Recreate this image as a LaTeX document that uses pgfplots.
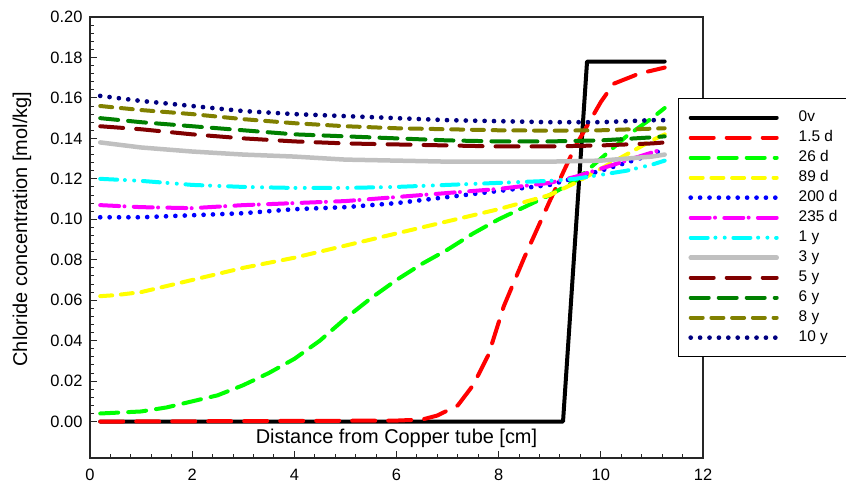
\documentclass[border=0pt]{standalone}
\usepackage{fontspec}
\setmainfont{Liberation Sans}
\usepackage{pgfplots}
\pgfplotsset{compat=1.18}
\definecolor{cblack}{RGB}{0,0,0}
\definecolor{cred}{RGB}{255,0,0}
\definecolor{clime}{RGB}{0,255,0}
\definecolor{cyellow}{RGB}{255,255,0}
\definecolor{cblue}{RGB}{0,0,255}
\definecolor{cmagenta}{RGB}{255,0,255}
\definecolor{ccyan}{RGB}{0,255,255}
\definecolor{cgray}{RGB}{192,192,192}
\definecolor{cdarkred}{RGB}{128,0,0}
\definecolor{cgreen}{RGB}{0,128,0}
\definecolor{colive}{RGB}{128,128,0}
\definecolor{cnavy}{RGB}{0,0,128}
\tikzset{
  pdash/.style={dash pattern=on 23bp off 13bp},
  pdashm/.style={dash pattern=on 18bp off 10bp},
  pdashs/.style={dash pattern=on 12bp off 8.7bp},
  pdot/.style={dash pattern=on 0bp off 9.4bp, line width=4.7bp},
  pdashdot/.style={dash pattern=on 19bp off 5.3bp on 0bp off 9.3bp},
  pdashdotdot/.style={dash pattern=on 17bp off 7.7bp on 0bp off 9.3bp on 0bp off 8.7bp},
}
\begin{document}
\begin{tikzpicture}
\begin{axis}[
  scale only axis, width=613bp, height=441bp,
  xmin=0, xmax=12, ymin=-0.018, ymax=0.2,
  xtick={0,2,4,6,8,10,12},
  ytick={0,0.02,0.04,0.06,0.08,0.1,0.12,0.14,0.16,0.18,0.2},
  minor x tick num=4, minor y tick num=4,
  tick pos=left, tick align=inside,
  major tick length=7bp, minor tick length=4bp,
  axis line style={line width=1.2bp, black!85},
  every tick/.style={black!85, line width=1bp},
  scaled y ticks=false,
  yticklabel style={/pgf/number format/fixed, /pgf/number format/fixed zerofill, /pgf/number format/precision=2, xshift=-4bp},
  xticklabel style={yshift=-8bp},
  /pgf/number format/assume math mode=true,
  tick label style={font=\fontsize{16.5}{19}\selectfont},
  xlabel={Distance from Copper tube [cm]},
  xlabel style={at={(axis description cs:0.5,0.045)}, anchor=center, font=\fontsize{20}{24}\selectfont},
  ylabel={Chloride concentration [mol/kg]},
  ylabel style={at={(axis description cs:-0.111,0.519)}, anchor=center, font=\fontsize{20}{24}\selectfont},
  every axis plot/.append style={line width=4bp, line cap=round, line join=round},
  legend cell align=left,
  legend image code/.code={\draw[#1] (2bp,0) -- (88bp,0); \path[draw=none] (0bp,0) -- (110bp,0);},
  legend style={at={(axis description cs:0.959,0.816)}, anchor=north west,
    draw=black, line width=1bp, fill=white,
    font=\fontsize{15.5}{18}\selectfont,
    inner xsep=10bp, inner ysep=11bp, row sep=4bp,
    nodes={inner sep=0pt, text height=12bp, text depth=4bp}},
]
% 0v
\addplot[cblack] coordinates {(0.2,0) (9.26,0) (9.73,0.178) (11.25,0.178)};
\addlegendentry{0v}
% 1.5 d
\addplot[cred, pdash] coordinates {(0.2,0) (6,0.0005) (6.5,0.001) (6.8,0.003) (7.2,0.008) (7.5,0.018) (7.8,0.033) (8.1,0.057) (8.5,0.081) (9,0.109) (9.5,0.136) (10,0.158) (10.25,0.167) (10.75,0.172) (11.25,0.175)};
\addlegendentry{1.5 d}
% 26 d
\addplot[clime, pdashm] coordinates {(0.2,0.004) (1,0.005) (1.5,0.007) (2,0.010) (2.5,0.013) (3,0.018) (3.5,0.024) (4,0.031) (4.5,0.040) (5,0.051) (5.5,0.061) (6,0.070) (6.5,0.078) (7,0.085) (7.5,0.093) (8,0.100) (8.5,0.106) (9,0.112) (9.5,0.119) (10,0.130) (10.5,0.141) (11,0.150) (11.25,0.155)};
\addlegendentry{26 d}
% 89 d
\addplot[cyellow, pdashs] coordinates {(0.2,0.062) (0.5,0.0625) (1,0.064) (1.5,0.067) (2,0.070) (3,0.076) (4,0.081) (5,0.087) (6,0.093) (7,0.099) (8,0.105) (9,0.112) (9.5,0.118) (10,0.125) (10.5,0.132) (11,0.139) (11.25,0.142)};
\addlegendentry{89 d}
% 200 d
\addplot[cblue, pdot] coordinates {(0.2,0.101) (1,0.101) (2,0.102) (3,0.103) (4,0.105) (5,0.106) (6,0.108) (7,0.111) (8,0.114) (9,0.117) (10,0.124) (10.5,0.128) (11,0.132) (11.25,0.135)};
\addlegendentry{200 d}
% 235 d
\addplot[cmagenta, pdashdot] coordinates {(0.2,0.107) (1,0.106) (2,0.1055) (3,0.107) (4,0.108) (5,0.109) (6,0.111) (7,0.113) (8,0.115) (9,0.118) (9.5,0.121) (10,0.125) (10.5,0.129) (11,0.133) (11.25,0.135)};
\addlegendentry{235 d}
% 1 y
\addplot[ccyan, pdashdotdot] coordinates {(0.2,0.120) (1,0.119) (2,0.117) (3,0.116) (4,0.1155) (5,0.1155) (6,0.116) (7,0.117) (8,0.118) (9,0.119) (9.5,0.120) (10,0.122) (10.5,0.124) (11,0.127) (11.25,0.129)};
\addlegendentry{1 y}
% 3 y
\addplot[cgray, line width=4.5bp] coordinates {(0.2,0.138) (1,0.1355) (2,0.1335) (3,0.132) (4,0.131) (5,0.1295) (6,0.129) (7,0.1285) (8,0.1285) (9,0.1285) (10,0.129) (10.5,0.130) (11,0.131) (11.25,0.132)};
\addlegendentry{3 y}
% 5 y
\addplot[cdarkred, pdash] coordinates {(0.2,0.146) (1,0.1445) (2,0.142) (3,0.140) (4,0.1385) (5,0.1375) (6,0.137) (7,0.1365) (8,0.136) (9,0.136) (10,0.1365) (11,0.1375) (11.25,0.138)};
\addlegendentry{5 y}
% 6 y
\addplot[cgreen, pdashm] coordinates {(0.2,0.150) (1,0.148) (2,0.146) (3,0.144) (4,0.142) (5,0.141) (6,0.140) (7,0.139) (8,0.1385) (9,0.1385) (10,0.139) (11,0.1405) (11.25,0.141)};
\addlegendentry{6 y}
% 8 y
\addplot[colive, pdashs] coordinates {(0.2,0.156) (1,0.154) (2,0.152) (3,0.1495) (4,0.1475) (5,0.146) (6,0.145) (7,0.1445) (8,0.144) (9,0.1438) (10,0.144) (11,0.1448) (11.25,0.145)};
\addlegendentry{8 y}
% 10 y
\addplot[cnavy, pdot] coordinates {(0.2,0.161) (1,0.1585) (2,0.156) (3,0.1535) (4,0.152) (5,0.151) (6,0.150) (7,0.149) (8,0.1485) (9,0.148) (10,0.148) (11,0.149) (11.25,0.149)};
\addlegendentry{10 y}
\end{axis}
\pgfresetboundingbox
\path (-90bp,-25bp) rectangle (756bp,458bp);
\end{tikzpicture}
\end{document}
